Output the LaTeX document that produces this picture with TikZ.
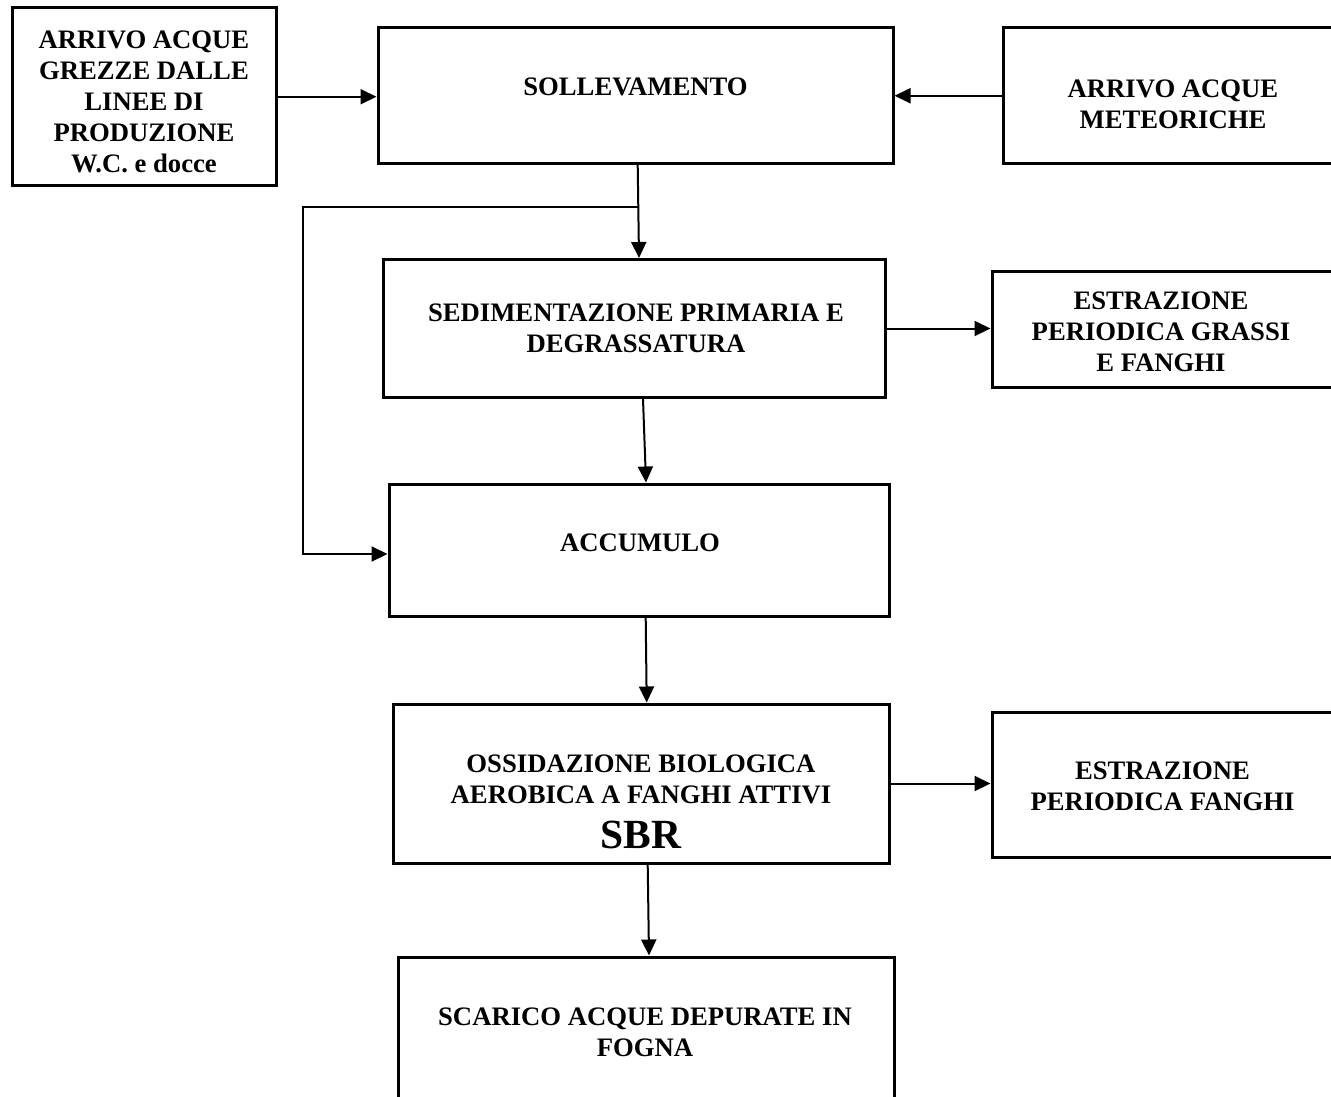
\documentclass[tikz,border=0pt]{standalone}
\usepackage{fontspec}
\setmainfont{Liberation Serif}
\usetikzlibrary{arrows.meta}
\tikzset{>={Triangle[length=16pt,width=15pt]}}

\begin{document}
\begin{tikzpicture}[x=1pt,y=-1pt,
        blocco/.style args={#1/#2}{draw,line width=3pt,minimum width=#1pt,minimum height=#2pt,inner sep=0pt},
        testo/.style={align=center,inner sep=0pt,font=\fontsize{26.67}{31}\selectfont\bfseries},
        freccia/.style={->,line width=2pt}]
            \useasboundingbox (0,0) rectangle (1331,1097);
            \clip (0,0) rectangle (1331,1097);
            \node[blocco=264/177.5] (arrivo) at (144,96.75){};
            \node[blocco=515/135.5] (soll) at (635.5,95.75){};
            \node[blocco=340/135.5] (meteo) at (1173,95.75){};
            \node[blocco=502/138] (sed) at (634,328.5){};
            \node[blocco=342/116] (grassi) at (1163,329){};
            \node[blocco=500/132] (acc) at (639,550){};
            \node[blocco=496/159] (oss) at (641.8,783.5){};
            \node[blocco=342/145] (fanghi) at (1163,784.5){};
            \node[blocco=496/173] (scarico) at (646,1043.5){};
            \node[testo] (arrivo-t) at (144,102) {ARRIVO ACQUE\\GREZZE DALLE\\LINEE DI\\PRODUZIONE\\W.C. e docce};
            \node[testo] (soll-t) at (635.5,86.5) {SOLLEVAMENTO};
            \node[testo] (meteo-t) at (1173,104) {ARRIVO ACQUE\\METEORICHE};
            \node[testo] (sed-t) at (636,328.5) {SEDIMENTAZIONE PRIMARIA E\\DEGRASSATURA};
            \node[testo] (grassi-t) at (1161,331.5) {ESTRAZIONE\\PERIODICA GRASSI\\E FANGHI};
            \node[testo] (acc-t) at (640,543) {ACCUMULO};
            \node[testo] (oss-t) at (641,779.5) {OSSIDAZIONE BIOLOGICA\\AEROBICA A FANGHI ATTIVI};
            \node[testo,font=\fontsize{41.5}{46}\selectfont\bfseries] (sbr) at (641,834.5) {SBR};
            \node[testo] (fanghi-t) at (1162.5,786.5) {ESTRAZIONE\\PERIODICA FANGHI};
            \node[testo] (scarico-t) at (645,1032) {SCARICO ACQUE DEPURATE IN\\FOGNA};
            \draw[freccia] (arrivo.east) -- (arrivo.east -| soll.west);
            \draw[freccia] (meteo.west) -- (meteo.west -| soll.east);
            \draw[freccia] (sed.east) -- (sed.east -| grassi.west);
            \draw[freccia] (oss.east) -- (oss.east -| fanghi.west);
            \draw[freccia] ([xshift=2.2pt]soll.south) -- ([xshift=5pt]sed.north);
            \draw[freccia] ([xshift=9pt]sed.south) -- ([xshift=7pt]acc.north);
            \draw[freccia] ([xshift=6.7pt]acc.south) -- ([xshift=4.9pt]oss.north);
            \draw[freccia] ([xshift=5.9pt]oss.south) -- ([xshift=3pt]scarico.north);
            \coordinate (dir) at (638,207);
            \coordinate (ang) at (303,554);
            \draw[freccia] (dir) -| (ang) -- (ang -| acc.west);
        \end{tikzpicture}
\end{document}
